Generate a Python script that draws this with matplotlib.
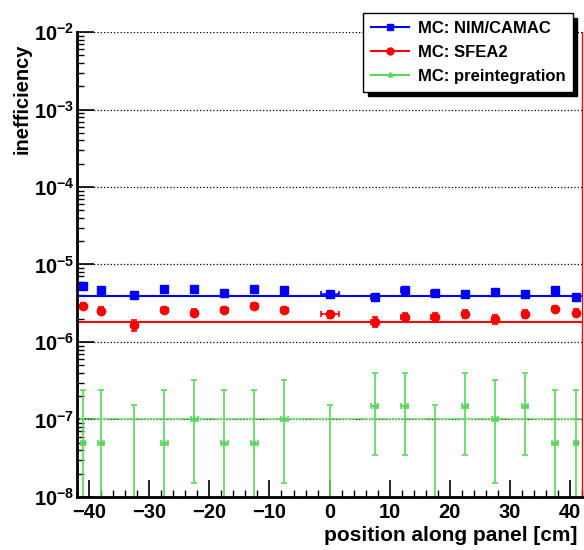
import matplotlib
matplotlib.use("Agg")
import matplotlib.pyplot as plt
import numpy as np
from matplotlib.lines import Line2D
from matplotlib.ticker import FixedLocator, FuncFormatter, MultipleLocator, LogLocator

plt.rcParams['font.family'] = ['Liberation Sans', 'DejaVu Sans']
plt.rcParams['font.weight'] = 'bold'
plt.rcParams['mathtext.fontset'] = 'custom'
plt.rcParams['mathtext.rm'] = 'Liberation Sans:bold'
plt.rcParams['mathtext.bf'] = 'Liberation Sans:bold'

# position along panel [cm]
pos = [-41, -38, -32.5, -27.5, -22.5, -17.5, -12.5, -7.5, 0,
       7.5, 12.5, 17.5, 22.5, 27.5, 32.5, 37.5, 41]
pos_err = [0.3, 0.55, 0.55, 0.55, 0.55, 0.55, 0.55, 0.55, 1.5,
           0.55, 0.55, 0.55, 0.55, 0.55, 0.55, 0.55, 0.3]

# MC: NIM/CAMAC
nim = np.array([5.29, 4.64, 4.00, 4.78, 4.78, 4.25, 4.88, 4.64, 4.12,
                3.85, 4.69, 4.25, 4.12, 4.37, 4.21, 4.69, 3.85]) * 1e-6
nim_err = np.array([0.15] * 17) * 1e-6
nim_fit = 3.9e-6

# MC: SFEA2
sfea = np.array([2.91, 2.54, 1.67, 2.59, 2.39, 2.59, 2.91, 2.59, 2.28,
                 1.83, 2.12, 2.12, 2.30, 1.96, 2.30, 2.67, 2.39]) * 1e-6
sfea_err = np.array([0.25, 0.25, 0.28, 0.25, 0.25, 0.25, 0.25, 0.25, 0.25,
                     0.25, 0.25, 0.25, 0.25, 0.25, 0.25, 0.25, 0.25]) * 1e-6
sfea_fit = 1.8e-6

# MC: preintegration
pre = np.array([0.5, 0.5, 0, 0.5, 1.0, 0.5, 0.5, 1.0, 0,
                1.5, 1.5, 0, 1.5, 1.0, 1.5, 0.5, 0.5]) * 1e-7
pre_lo = np.array([0.5, 0.5, 0, 0.5, 0.85, 0.5, 0.5, 0.85, 0,
                   1.15, 1.15, 0, 1.15, 0.85, 1.15, 0.5, 0.5]) * 1e-7
pre_hi = np.array([1.87, 1.87, 1.55, 1.87, 2.2, 1.87, 1.87, 2.2, 1.55,
                   2.5, 2.5, 1.55, 2.5, 2.2, 2.5, 1.87, 1.87]) * 1e-7
pre_fit = 1.0e-7

labels = ['MC: NIM/CAMAC', 'MC: SFEA2', 'MC: preintegration']
green = '#5ad75a'

fig = plt.figure(figsize=(5.84, 5.5), dpi=100)
ax = fig.add_axes([0.132, 0.0964, 0.8647, 0.8454])
ax.set_yscale('log')

ax.errorbar(pos, nim, xerr=pos_err, yerr=nim_err, fmt='s', color='blue',
            ms=6, capsize=2, elinewidth=1.2, capthick=1.2)
ax.axhline(nim_fit, color='blue', lw=1.5)

ax.errorbar(pos, sfea, xerr=pos_err, yerr=sfea_err, fmt='o', color='red',
            ms=6, capsize=2, elinewidth=1.2, capthick=1.2)
ax.axhline(sfea_fit, color='red', lw=1.5)

ax.errorbar(pos, pre, xerr=pos_err, yerr=[pre_lo, pre_hi], fmt='*', color=green,
            ms=4, capsize=2, elinewidth=1.2, capthick=1.2)
ax.axhline(pre_fit, color=green, lw=1.5, ls=(0, (1, 0.4)))

ax.set_xlim(-42, 42)
ax.set_ylim(1e-8, 1e-2)

ax.yaxis.set_major_locator(FixedLocator([1e-8, 1e-7, 1e-6, 1e-5, 1e-4, 1e-3, 1e-2]))
ax.yaxis.set_major_formatter(FuncFormatter(
    lambda v, p: r'$\mathbf{10^{%d}}$' % int(round(np.log10(v)))))
ax.yaxis.set_minor_locator(LogLocator(base=10, subs=np.arange(2, 10), numticks=20))
ax.yaxis.set_minor_formatter(FuncFormatter(lambda v, p: ''))
ax.xaxis.set_major_locator(MultipleLocator(10))
ax.xaxis.set_minor_locator(MultipleLocator(2))
ax.xaxis.set_major_formatter(FuncFormatter(lambda v, p: '%d' % v if v >= 0 else '\u2212%d' % -v))

ax.tick_params(axis='both', which='major', direction='in', length=12, width=1.2,
               labelsize=14.5, pad=4)
ax.tick_params(axis='y', which='major', pad=2)
ax.tick_params(axis='both', which='minor', direction='in', length=5, width=1)
ax.tick_params(axis='y', which='both', right=False)
ax.tick_params(axis='x', which='both', top=False)

ax.grid(axis='y', which='major', color='black', ls=':', lw=0.9)
ax.spines['top'].set_visible(False)
ax.spines['right'].set_color('red')
ax.spines['right'].set_linewidth(1)
ax.spines['left'].set_linewidth(2)
ax.spines['bottom'].set_linewidth(2)

ax.set_xlabel('position along panel [cm]', fontsize=15, fontweight='bold', loc='right')
ax.xaxis.set_label_coords(0.99, -0.062)
ax.set_ylabel('inefficiency', fontsize=14.5, fontweight='bold', loc='top')
ax.yaxis.set_label_coords(-0.09, 0.976)

handles = [Line2D([], [], color='blue', marker='s', ms=5, lw=1.5),
           Line2D([], [], color='red', marker='o', ms=5, lw=1.5),
           Line2D([], [], color=green, marker='*', ms=4, lw=1.5)]
fig.legend(handles, labels, loc='upper right', bbox_to_anchor=(581 / 584, 1 - 5 / 550),
           bbox_transform=fig.transFigure, fancybox=False, edgecolor='black',
           framealpha=1, prop={'size': 12, 'weight': 'bold'},
           handlelength=2.3, handletextpad=0.5, labelspacing=0.55, borderpad=0.45,
           shadow={'color': 'black', 'alpha': 1, 'ox': 3, 'oy': -3})

fig.savefig('out.png', dpi=100)
